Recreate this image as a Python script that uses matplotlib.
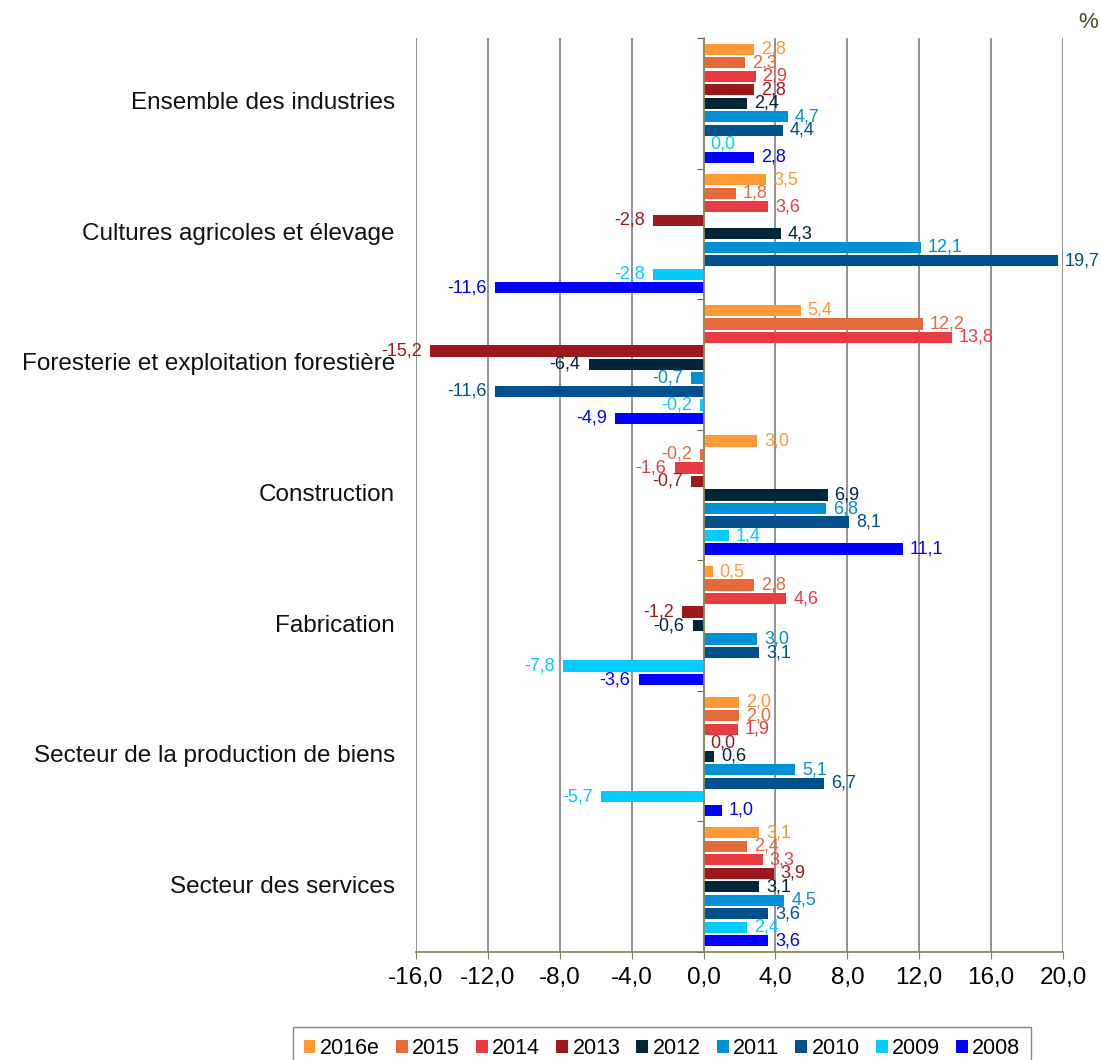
import numpy as np
import matplotlib
matplotlib.use("Agg")
import matplotlib.pyplot as plt
import matplotlib.transforms as mtransforms
from matplotlib.patches import Patch

plt.rcParams["font.family"] = ["Liberation Sans", "DejaVu Sans"]

# Categories (top to bottom) and series
categories = [
    "Ensemble des industries",
    "Cultures agricoles et élevage",
    "Foresterie et exploitation forestière",
    "Construction",
    "Fabrication",
    "Secteur de la production de biens",
    "Secteur des services",
]
years = ["2016e", "2015", "2014", "2013", "2012", "2011", "2010", "2009", "2008"]
colors = ["#FF9933", "#E8693A", "#E83C42", "#9C1A1C", "#00263A",
          "#0090D5", "#00508C", "#00CCFF", "#0000FF"]

# values per year, one entry per category
v2016e = [2.8, 3.5, 5.4, 3.0, 0.5, 2.0, 3.1]
v2015 = [2.3, 1.8, 12.2, -0.2, 2.8, 2.0, 2.4]
v2014 = [2.9, 3.6, 13.8, -1.6, 4.6, 1.9, 3.3]
v2013 = [2.8, -2.8, -15.2, -0.7, -1.2, 0.0, 3.9]
v2012 = [2.4, 4.3, -6.4, 6.9, -0.6, 0.6, 3.1]
v2011 = [4.7, 12.1, -0.7, 6.8, 3.0, 5.1, 4.5]
v2010 = [4.4, 19.7, -11.6, 8.1, 3.1, 6.7, 3.6]
v2009 = [0.0, -2.8, -0.2, 1.4, -7.8, -5.7, 2.4]
v2008 = [2.8, -11.6, -4.9, 11.1, -3.6, 1.0, 3.6]
series = [v2016e, v2015, v2014, v2013, v2012, v2011, v2010, v2009, v2008]

xticks = np.arange(-16, 21, 4)

fig = plt.figure(figsize=(11.01, 10.60), dpi=100)
ax = fig.add_axes([416 / 1101, 1 - 952 / 1060, 647 / 1101, 914 / 1060])

n = len(years)
pitch = 0.1034
bar_h = 0.086
cat_pos = np.arange(len(categories))

for j, (yr, vals, col) in enumerate(zip(years, series, colors)):
    ypos = cat_pos + (j - (n - 1) / 2) * pitch
    ax.barh(ypos, vals, height=bar_h, color=col, zorder=3)
    for y, v in zip(ypos, vals):
        txt = f"{v:.1f}".replace(".", ",")
        if v < 0:
            ax.annotate(txt, (v, y), xytext=(-6, 0), textcoords="offset points",
                        ha="right", va="center", fontsize=13, color=col, zorder=4)
        else:
            ax.annotate(txt, (v, y), xytext=(5, 0), textcoords="offset points",
                        ha="left", va="center", fontsize=13, color=col, zorder=4)

ax.set_xlim(-16, 20)
ax.set_ylim(len(categories) - 0.5, -0.5)

# vertical grid
ax.set_xticks(xticks)
ax.set_xticklabels([f"{t:.1f}".replace(".", ",") for t in xticks], fontsize=17.5)
ax.grid(axis="x", color="#808080", linewidth=1.2, zorder=0)
ax.tick_params(axis="x", direction="out", length=5, color="#7F7F50", pad=6)

# zero line as y axis with category boundary ticks
for s in ["top", "right"]:
    ax.spines[s].set_visible(False)
ax.spines["left"].set_position(("data", 0))
ax.spines["left"].set_color("#8C8C5A")
ax.spines["left"].set_linewidth(1.2)
ax.spines["left"].set_zorder(5)
ax.spines["bottom"].set_color("#7F7F50")
ax.spines["bottom"].set_linewidth(1.2)
ax.set_yticks(np.arange(len(categories) + 1) - 0.5)
ax.set_yticklabels([])
ax.tick_params(axis="y", direction="out", length=5, color="#6B6B40")

# category labels
trans = mtransforms.blended_transform_factory(ax.transAxes, ax.transData)
for i, c in enumerate(categories):
    ax.text(-0.0325, i, c, transform=trans, ha="right", va="center",
            fontsize=17.5, color="#111111")

fig.text(1088 / 1101, 1 - 22 / 1060, "%", ha="center", va="center",
         fontsize=16, color="#4D4D26")

handles = [Patch(facecolor=c, edgecolor="none") for c in colors]
leg = fig.legend(handles, years, loc="upper center", bbox_to_anchor=(662 / 1101, 1 - 1027 / 1060),
                 ncol=n, fontsize=15.5, frameon=True, fancybox=False,
                 handlelength=0.55, handleheight=0.55, handletextpad=0.2,
                 columnspacing=0.75, borderpad=0.5, borderaxespad=0)
leg.get_frame().set_edgecolor("#6B6B50")
leg.get_frame().set_linewidth(1.0)

fig.savefig("out.png", dpi=100)
